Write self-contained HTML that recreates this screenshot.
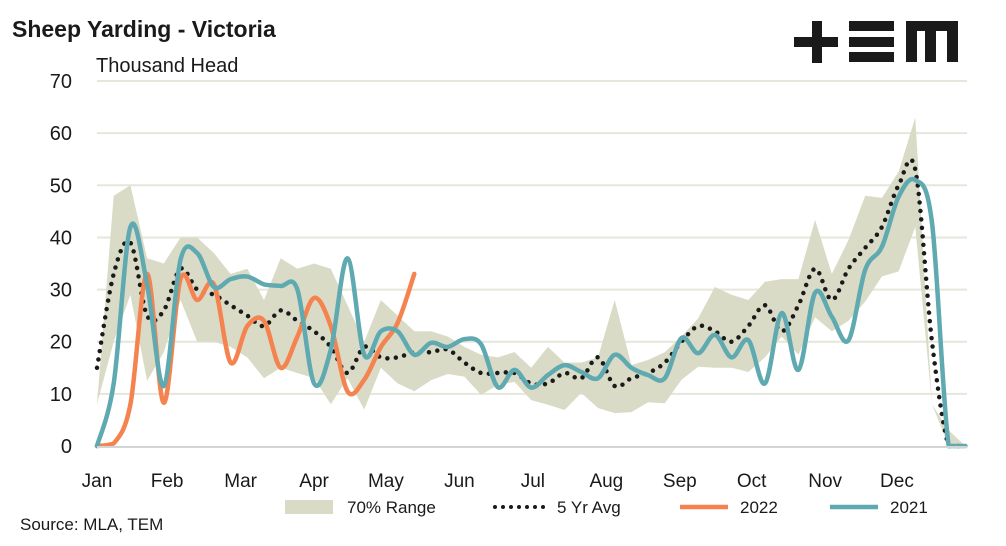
<!DOCTYPE html>
<html><head><meta charset="utf-8"><style>
body{margin:0;background:#fff;}
svg text{font-family:"Liberation Sans",sans-serif;fill:#1a1a1a;}
</style></head><body>
<svg id="chart" width="1006" height="541" viewBox="0 0 1006 541" xmlns="http://www.w3.org/2000/svg">
<text x="12" y="37" font-size="23" font-weight="bold">Sheep Yarding - Victoria</text>
<text x="96" y="72" font-size="20">Thousand Head</text>
<g fill="#1a1a1a">
<rect x="794" y="37" width="44" height="10"/><rect x="812" y="21" width="10" height="42"/>
<rect x="849" y="21" width="45" height="10"/><rect x="849" y="37" width="45" height="10"/><rect x="849" y="52" width="45" height="10"/>
<rect x="906" y="21" width="52" height="10"/><rect x="906" y="21" width="11" height="41"/><rect x="925" y="21" width="11" height="41"/><rect x="947" y="21" width="11" height="41"/>
</g>
<g id="grid"></g><g id="band"></g><g id="lines"></g><g id="axes"></g>
<g>
<rect x="285" y="500" width="48" height="14" fill="#d9dbc6"/>
<text x="347" y="513" font-size="17">70% Range</text>
<line x1="495" y1="507" x2="545" y2="507" stroke="#1a1a1a" stroke-width="4" stroke-dasharray="0 8" stroke-linecap="round"/>
<text x="557" y="513" font-size="17">5 Yr Avg</text>
<line x1="680" y1="507" x2="728" y2="507" stroke="#f4834f" stroke-width="4.5"/>
<text x="740" y="513" font-size="17">2022</text>
<line x1="830" y1="507" x2="878" y2="507" stroke="#5fa9b1" stroke-width="4.5"/>
<text x="890" y="513" font-size="17">2021</text>
</g>
<text x="20" y="530" font-size="17">Source: MLA, TEM</text>
</svg>
<script>
const yTicks=[0,10,20,30,40,50,60,70];
const months=["Jan","Feb","Mar","Apr","May","Jun","Jul","Aug","Sep","Oct","Nov","Dec"];
const monthWeeks=[0,4.2,8.6,13,17.3,21.7,26.1,30.5,34.9,39.2,43.6,47.9];
const bandUpper=[8,48,50,36,35,40,40,37,33,34,28,36,34,35,34,27,20,28,25,22,22,21,19,17.5,17,18,15,19,16,16,17,28,15.5,16.5,18,21,24.5,30.5,29,28,31.5,32,32,43.4,33,39.5,48,47.6,52.6,63,8,3,0];
const bandLower=[8,20,29,12.5,18,28,20,20,19,17,13,15,14,13,8,13,7,15,12,10.5,12.6,13.8,13.3,9.8,11.7,12.3,8.8,7.9,6.9,10.2,7.3,6.3,6.5,8.4,8.2,12.7,15.2,15,15,14.2,17,21,17.5,24.7,22,24,27.7,32.5,33.5,42,8,0,0];
const avg5=[15,33,39,25,26,34,30,29,27,25,23,26,24,22,19,14,19,17,17,18,18,18.5,16,14,14,14,12,12,14,13,17,11.5,13,14,16,20,23,22,20,23,27,22,27,34,28,34,38,42,50,53,20,0,0];
const s2021=[0,12,42,31,11.5,35.7,37,30.5,32,32.5,31,30.7,30,12,18.5,36,17.5,22,22,17.5,19.8,19,20.5,19.5,11.3,14.6,11.2,13.6,15.5,14.2,13,17.5,15,13.6,13,20.7,17.8,21.3,17,20.3,12,25.5,14.6,29.4,24.8,20.3,33.8,38.2,47.8,51,42.8,0,0];
const s2022=[0,0.5,8,33,8.3,32,28,31,16,23,24,15,21,28.4,23,10.5,12.7,19,23.6,33];
const X0=97,WK=16.7,Y0=446,YS=5.214;
const xs=w=>X0+w*WK, ys=v=>Y0-v*YS;
const NS="http://www.w3.org/2000/svg";
function mk(t,a,p){const e=document.createElementNS(NS,t);for(const k in a)e.setAttribute(k,a[k]);p.appendChild(e);return e;}
const grid=document.getElementById('grid'),axes=document.getElementById('axes');
yTicks.forEach(v=>{
 if(v>0){const g=mk('line',{x1:97,x2:967,y1:ys(v),y2:ys(v),stroke:'#e6e6da','stroke-width':2},grid);
 
 }
 const t=mk('text',{x:72,y:ys(v)+7,'font-size':20,'text-anchor':'end'},axes);t.textContent=v;
 
 
});
const ax=mk('line',{x1:97,x2:967,y1:Y0+1,y2:Y0+1,stroke:'#d4d4d4','stroke-width':2},axes);


months.forEach((m,i)=>{const t=mk('text',{x:xs(monthWeeks[i]),y:487,'font-size':19,'text-anchor':'middle'},axes);t.textContent=m;
 
 });
let d='M'+bandUpper.map((v,i)=>xs(i)+','+ys(v)).join('L');
for(let i=bandLower.length-1;i>=0;i--)d+='L'+xs(i)+','+ys(bandLower[i]);
const b=mk('path',{d:d+'Z',fill:'#d9dbc6'},document.getElementById('band'));


function smooth(arr){const p=arr.map((v,i)=>[xs(i),ys(v)]);let s='M'+p[0][0]+','+p[0][1];
 const cl=y=>Math.min(y,Y0);
 for(let i=0;i<p.length-1;i++){const a=p[Math.max(i-1,0)],b=p[i],c=p[i+1],e=p[Math.min(i+2,p.length-1)];
 s+='C'+(b[0]+(c[0]-a[0])/6)+','+cl(b[1]+(c[1]-a[1])/6)+' '+(c[0]-(e[0]-b[0])/6)+','+cl(c[1]-(e[1]-b[1])/6)+' '+c[0]+','+c[1];}
 return s;}
const L=document.getElementById('lines');
const la=mk('path',{d:smooth(avg5),fill:'none',stroke:'#1a1a1a','stroke-width':4.5,'stroke-dasharray':'0 8.5','stroke-linecap':'round'},L);


const l2=mk('path',{d:smooth(s2022),fill:'none',stroke:'#f4834f','stroke-width':4.5,'stroke-linecap':'round'},L);


const l1=mk('path',{d:smooth(s2021),fill:'none',stroke:'#5fa9b1','stroke-width':4.5,'stroke-linecap':'round'},L);


</script>
</body></html>
